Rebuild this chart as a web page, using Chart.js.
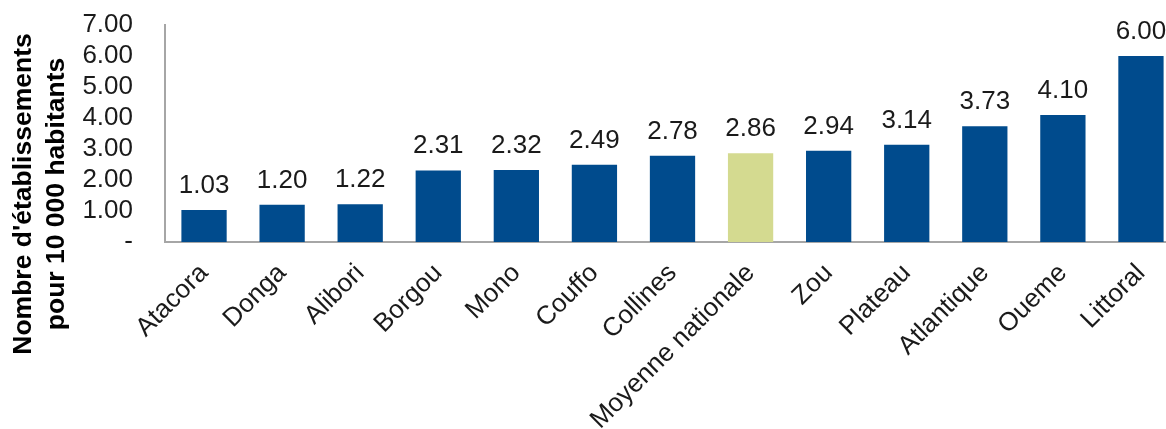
<!DOCTYPE html>
<html>
<head>
<meta charset="utf-8">
<script src="https://cdn.jsdelivr.net/npm/chart.js@4/dist/chart.umd.min.js"></script>
<style>
  body { margin: 0; overflow: hidden; background: #fff; }
  #wrap { width: 1180px; height: 429px; }
</style>
</head>
<body>
<div id="wrap"><canvas id="bar-chart" width="1180" height="429"></canvas></div>
<script>
// Données
const departements = ["Atacora", "Donga", "Alibori", "Borgou", "Mono", "Couffo", "Collines",
  "Moyenne nationale", "Zou", "Plateau", "Atlantique", "Oueme", "Littoral"];
const valeurs = [1.03, 1.2, 1.22, 2.31, 2.32, 2.49, 2.78, 2.86, 2.94, 3.14, 3.73, 4.1, 6.0];
const titreY = ["Nombre d'établissements", "pour 10 000 habitants"];
const yMax = 7;

const BLEU = "#004B8D";
const VERT = "#D4DA90";
const couleurs = departements.map((d) => (d === "Moyenne nationale" ? VERT : BLEU));
const POLICE = "'Liberation Sans', Arial, sans-serif";

// étiquettes au-dessus des barres
const etiquettes = {
  id: "etiquettes",
  afterDatasetsDraw(chart) {
    const ctx = chart.ctx;
    const meta = chart.getDatasetMeta(0);
    ctx.save();
    ctx.font = "26px " + POLICE;
    ctx.fillStyle = "#1a1a1a";
    ctx.textAlign = "center";
    ctx.textBaseline = "alphabetic";
    meta.data.forEach((bar, i) => {
      ctx.fillText(valeurs[i].toFixed(2), bar.x, bar.y - 17);
    });
    ctx.restore();
  },
};

// titre de l'axe Y (deux lignes)
const titreAxe = {
  id: "titreAxe",
  afterDraw(chart) {
    const ctx = chart.ctx;
    ctx.save();
    ctx.font = "bold 26.5px " + POLICE;
    ctx.fillStyle = "#000";
    ctx.textAlign = "center";
    ctx.textBaseline = "middle";
    ctx.translate(0, 194);
    ctx.rotate(-Math.PI / 2);
    ctx.fillText(titreY[0], 0, 24);
    ctx.fillText(titreY[1], 0, 57);
    ctx.restore();
  },
};

const chartBar = new Chart(document.getElementById("bar-chart").getContext("2d"), {
  type: "bar",
  data: {
    labels: departements,
    datasets: [
      {
        data: valeurs,
        backgroundColor: couleurs,
        borderWidth: 0,
        barPercentage: 0.58,
        categoryPercentage: 1,
      },
    ],
  },
  options: {
    responsive: false,
    animation: false,
    layout: { padding: { top: 25, right: 0, left: 0, bottom: 0 } },
    plugins: {
      legend: { display: false },
      tooltip: { enabled: false },
    },
    scales: {
      x: {
        grid: { display: false, drawTicks: false },
        border: { color: "#a6a6a6", width: 2 },
        ticks: {
          color: "#1a1a1a",
          font: { family: POLICE, size: 26 },
          maxRotation: 45,
          minRotation: 45,
          autoSkip: false,
          padding: 16,
        },
        afterFit(axis) {
          axis.height = 187;
        },
      },
      y: {
        min: 0,
        max: yMax,
        grid: { display: false, drawTicks: false },
        border: { color: "#a6a6a6", width: 2 },
        ticks: {
          stepSize: 1,
          autoSkip: false,
          color: "#1a1a1a",
          font: { family: POLICE, size: 26 },
          padding: 32,
          callback: (v) => (v === 0 ? "-" : v.toFixed(2)),
        },
        afterFit(axis) {
          axis.width = 165;
          axis.paddingTop = 0;
          axis.paddingBottom = 0;
        },
      },
    },
  },
  plugins: [etiquettes, titreAxe],
});
</script>
</body>
</html>
